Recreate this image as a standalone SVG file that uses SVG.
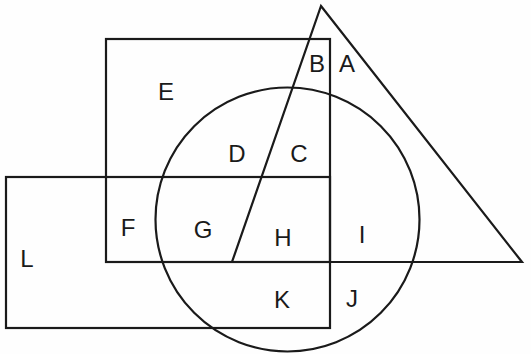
<svg xmlns="http://www.w3.org/2000/svg" width="531" height="354" viewBox="0 0 531 354">
<style>
.s{fill:none;stroke:#1a1a1a;stroke-width:2.2}
.t{font-family:"Liberation Sans",Arial,sans-serif;font-size:24px;fill:#1a1a1a;text-anchor:middle}
</style>
<rect width="531" height="354" fill="#fefefe"/>
<g id="rect-upper"><rect class="s" x="106" y="39" width="224" height="223"/></g>
<g id="rect-lower"><rect class="s" x="6" y="177" width="324" height="151"/></g>
<g id="circle"><circle class="s" cx="287.5" cy="219.5" r="132"/></g>
<g id="triangle"><polygon class="s" points="321,6 522,262 232,262"/></g>
<g id="labels">
<text class="t" x="317" y="72">B</text>
<text class="t" x="347" y="72">A</text>
<text class="t" x="166" y="100">E</text>
<text class="t" x="237" y="162">D</text>
<text class="t" x="299" y="162">C</text>
<text class="t" x="128" y="236">F</text>
<text class="t" x="203" y="238">G</text>
<text class="t" x="283" y="246">H</text>
<text class="t" x="362" y="243">I</text>
<text class="t" x="27" y="267">L</text>
<text class="t" x="282" y="308">K</text>
<text class="t" x="352" y="307">J</text>
</g>
</svg>
